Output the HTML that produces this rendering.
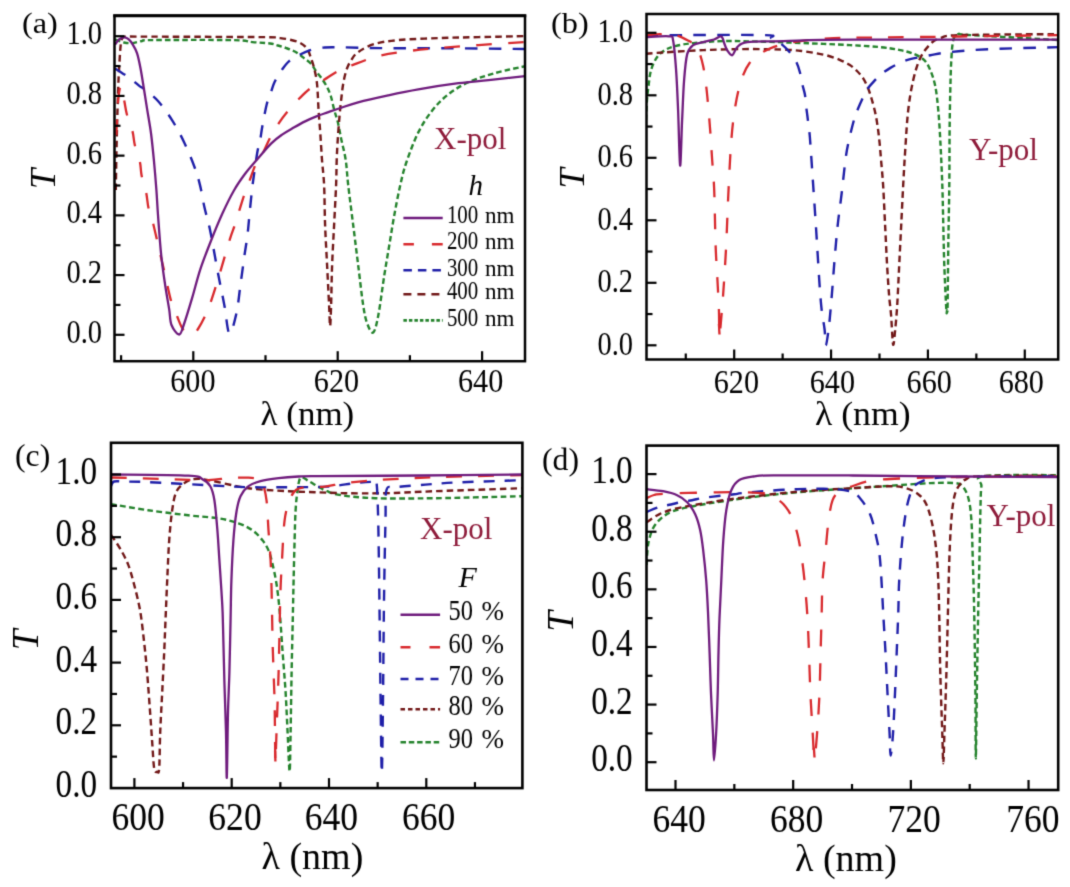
<!DOCTYPE html>
<html><head><meta charset="utf-8"><title>Figure</title>
<style>html,body{margin:0;padding:0;background:#fff;width:1070px;height:887px;overflow:hidden}
svg{display:block}text{font-family:"Liberation Serif",serif}</style></head>
<body>
<svg width="1070" height="887" viewBox="0 0 1070 887" font-family='"Liberation Serif", serif'>
<rect width="1070" height="887" fill="#fff"/>
<filter id="soft" color-interpolation-filters="sRGB" x="0" y="0" width="1070" height="887" filterUnits="userSpaceOnUse"><feConvolveMatrix order="3" kernelMatrix="1 5 1 5 25 5 1 5 1" edgeMode="duplicate"/></filter>
<g filter="url(#soft)">
<rect width="1070" height="887" fill="#fff"/>
<clipPath id="ca"><rect x="114.5" y="15.7" width="410.5" height="345.5"/></clipPath>
<path d="M115 39.5 C116.5 40 121.17 41.9 124 42.5 C126.83 43.1 129 43.35 132 43.1 C135 42.85 138.67 41.5 142 41 C145.33 40.5 136.93 40.25 152 40.1 C167.07 39.95 215.65 39.77 232.4 40.1 C249.15 40.43 246.23 41.53 252.5 42.1 C258.77 42.67 265.77 42.93 270 43.5 C274.23 44.07 275.27 44.77 277.9 45.5 C280.53 46.23 282.9 46.85 285.8 47.9 C288.7 48.95 292.42 50.22 295.3 51.8 C298.18 53.38 300.48 55.42 303.1 57.4 C305.72 59.38 308.88 61.47 311 63.7 C313.12 65.93 314.08 68.43 315.8 70.8 C317.52 73.17 319.47 75.27 321.3 77.9 C323.13 80.53 325.22 83.58 326.8 86.6 C328.38 89.62 329.53 91.98 330.8 96 C332.07 100.02 333.23 106.37 334.4 110.7 C335.57 115.03 336.67 117.3 337.8 122 C338.93 126.7 339.88 132.57 341.2 138.9 C342.52 145.23 344.53 152.32 345.7 160 C346.87 167.68 346.95 174.15 348.2 185 C349.45 195.85 351.53 211.72 353.2 225.1 C354.87 238.48 356.53 251.92 358.2 265.3 C359.87 278.68 361.7 295.7 363.2 305.4 C364.7 315.1 365.53 318.98 367.2 323.5 C368.87 328.02 371.35 333.85 373.2 332.5 C375.05 331.15 376.45 324.93 378.3 315.4 C380.15 305.87 382.47 287 384.3 275.3 C386.13 263.6 387.63 255.23 389.3 245.2 C390.97 235.17 392.47 225.13 394.3 215.1 C396.13 205.07 398.3 193.77 400.3 185 C402.3 176.23 403.3 171.27 406.3 162.5 C409.3 153.73 413.95 141.1 418.3 132.4 C422.65 123.7 427.38 116.65 432.4 110.3 C437.42 103.95 442.38 98.98 448.4 94.3 C454.42 89.62 460.8 85.72 468.5 82.2 C476.2 78.68 485.02 75.9 494.6 73.2 C504.18 70.5 520.77 67.2 526 66" fill="none" stroke="#23822B" stroke-width="2.4" stroke-linejoin="round" stroke-dasharray="5.5 3.1" clip-path="url(#ca)"/>
<path d="M115.8 190 C115.92 183.33 116.22 163.33 116.5 150 C116.78 136.67 117.17 121.67 117.5 110 C117.83 98.33 118.15 88.33 118.5 80 C118.85 71.67 119.23 65.83 119.6 60 C119.97 54.17 120.23 48.67 120.7 45 C121.17 41.33 121.52 39.4 122.4 38 C123.28 36.6 123.07 36.83 126 36.6 C128.93 36.37 127.67 36.57 140 36.6 C152.33 36.63 178.33 36.7 200 36.8 C221.67 36.9 256.75 37 270 37.2 C283.25 37.4 276.22 37.6 279.5 38 C282.78 38.4 286.28 38.8 289.7 39.6 C293.12 40.4 297.1 41.28 300 42.8 C302.9 44.32 305.27 46.15 307.1 48.7 C308.93 51.25 309.82 54.82 311 58.1 C312.18 61.38 313.27 64.72 314.2 68.4 C315.13 72.08 316.02 76.1 316.6 80.2 C317.18 84.3 317.37 87.92 317.7 93 C318.03 98.08 318.17 103.98 318.6 110.7 C319.03 117.42 319.73 125.08 320.3 133.3 C320.87 141.52 321.37 151.38 322 160 C322.63 168.62 323.58 174.15 324.1 185 C324.62 195.85 324.6 211.72 325.1 225.1 C325.6 238.48 326.43 251.92 327.1 265.3 C327.77 278.68 328.6 295.28 329.1 305.4 C329.6 315.52 329.77 326 330.1 326 C330.43 326 330.77 315.52 331.1 305.4 C331.43 295.28 331.6 278.68 332.1 265.3 C332.6 251.92 333.43 238.48 334.1 225.1 C334.77 211.72 335.67 195.85 336.1 185 C336.53 174.15 336.42 167.68 336.7 160 C336.98 152.32 337.33 146.17 337.8 138.9 C338.27 131.63 338.93 122.97 339.5 116.4 C340.07 109.83 340.55 105.15 341.2 99.5 C341.85 93.85 342.47 87.58 343.4 82.5 C344.33 77.42 345.48 72.75 346.8 69 C348.12 65.25 349.42 62.82 351.3 60 C353.18 57.18 354.28 54.75 358.1 52.1 C361.92 49.45 367.5 46.1 374.2 44.1 C380.9 42.1 387.6 41.1 398.3 40.1 C409 39.1 425.03 38.6 438.4 38.1 C451.77 37.6 463.9 37.43 478.5 37.1 C493.1 36.77 518.08 36.27 526 36.1" fill="none" stroke="#701616" stroke-width="2.4" stroke-linejoin="round" stroke-dasharray="6.6 4.1" clip-path="url(#ca)"/>
<path d="M115 68.5 C116.17 69.25 119.5 71.38 122 73 C124.5 74.62 127.02 75.97 130 78.2 C132.98 80.43 137.55 84.6 139.9 86.4 C142.25 88.2 141.05 86.52 144.1 89 C147.15 91.48 153.52 96.07 158.2 101.3 C162.88 106.53 167.87 113.55 172.2 120.4 C176.53 127.25 180.52 134.72 184.2 142.4 C187.88 150.08 191.67 159.38 194.3 166.5 C196.93 173.62 198.3 178.25 200 185.1 C201.7 191.95 202.82 200.08 204.5 207.6 C206.18 215.12 207.78 218.92 210.1 230.2 C212.42 241.48 216.02 262.77 218.4 275.3 C220.78 287.83 222.57 295.7 224.4 305.4 C226.23 315.1 227.4 332.17 229.4 333.5 C231.4 334.83 234.57 321.43 236.4 313.4 C238.23 305.37 239.05 295 240.4 285.3 C241.75 275.6 243.33 263.45 244.5 255.2 C245.67 246.95 246.55 242.78 247.4 235.8 C248.25 228.82 248.85 220.82 249.6 213.3 C250.35 205.78 251.15 197.28 251.9 190.7 C252.65 184.12 253.17 180.37 254.1 173.8 C255.03 167.23 256.52 156.73 257.5 151.3 C258.48 145.87 259.2 145.33 260 141.2 C260.8 137.07 261.17 132.7 262.3 126.5 C263.43 120.3 265.35 109.75 266.8 104 C268.25 98.25 269.68 95.7 271 92 C272.32 88.3 272.9 85.47 274.7 81.8 C276.5 78.13 279.43 73.42 281.8 70 C284.17 66.58 286 63.8 288.9 61.3 C291.8 58.8 295.77 56.83 299.2 55 C302.63 53.17 305.82 51.48 309.5 50.3 C313.18 49.12 317.37 48.42 321.3 47.9 C325.23 47.38 323.32 47.17 333.1 47.2 C342.88 47.23 360.52 47.92 380 48.1 C399.48 48.28 425.67 48.15 450 48.3 C474.33 48.45 513.33 48.88 526 49" fill="none" stroke="#1E1EA8" stroke-width="2.4" stroke-linejoin="round" stroke-dasharray="12.5 11.3" clip-path="url(#ca)"/>
<path d="M116.3 135 C116.5 130.83 117.05 117 117.5 110 C117.95 103 118.47 96.93 119 93 C119.53 89.07 120.12 86.57 120.7 86.4 C121.28 86.23 121.87 89.4 122.5 92 C123.13 94.6 123.77 98.25 124.5 102 C125.23 105.75 125.57 109.6 126.9 114.5 C128.23 119.4 131.18 126.32 132.5 131.4 C133.82 136.48 133.57 139.92 134.8 145 C136.03 150.08 138.77 156.83 139.9 161.9 C141.03 166.97 140.57 170.33 141.6 175.4 C142.63 180.47 144.98 187.03 146.1 192.3 C147.22 197.57 147.47 203.2 148.3 207 C149.13 210.8 149.45 208.73 151.1 215.1 C152.75 221.47 155.85 235.17 158.2 245.2 C160.55 255.23 163.03 265.93 165.2 275.3 C167.37 284.67 169.2 294.53 171.2 301.4 C173.2 308.27 175.2 311.82 177.2 316.5 C179.2 321.18 180.68 326.5 183.2 329.5 C185.72 332.5 189.78 334.67 192.3 334.5 C194.82 334.33 195.97 332.02 198.3 328.5 C200.63 324.98 203.97 318.58 206.3 313.4 C208.63 308.22 209.95 304.42 212.3 297.4 C214.65 290.38 217.47 281 220.4 271.3 C223.33 261.6 227.47 246.98 229.9 239.2 C232.33 231.42 233.4 229.48 235 224.6 C236.6 219.72 237.92 214.98 239.5 209.9 C241.08 204.82 242.82 198.98 244.5 194.1 C246.18 189.22 247.62 185.87 249.6 180.6 C251.58 175.33 254.05 167.38 256.4 162.5 C258.75 157.62 261.42 155.42 263.7 151.3 C265.98 147.18 267.52 142.58 270.1 137.8 C272.68 133.02 276.18 127.12 279.2 122.6 C282.22 118.08 284.82 114.75 288.2 110.7 C291.58 106.65 295.78 102.03 299.5 98.3 C303.22 94.57 306.33 91.43 310.5 88.3 C314.67 85.17 320.07 82.28 324.5 79.5 C328.93 76.72 332.45 74 337.1 71.6 C341.75 69.2 345.55 67.68 352.4 65.1 C359.25 62.52 368.88 58.43 378.2 56.1 C387.52 53.77 398.27 52.43 408.3 51.1 C418.33 49.77 426.7 49.1 438.4 48.1 C450.1 47.1 463.9 46.12 478.5 45.1 C493.1 44.08 518.08 42.52 526 42" fill="none" stroke="#D8282C" stroke-width="2.3" stroke-linejoin="round" stroke-dasharray="15.5 16.3" clip-path="url(#ca)"/>
<path d="M115 44.7 C115.5 44 117 41.57 118 40.5 C119 39.43 119.88 38.82 121 38.3 C122.12 37.78 123.45 37.25 124.7 37.4 C125.95 37.55 127.2 38.07 128.5 39.2 C129.8 40.33 131.08 41.87 132.5 44.2 C133.92 46.53 135.68 49.27 137 53.2 C138.32 57.13 139.27 61.98 140.4 67.8 C141.53 73.62 142.67 81.13 143.8 88.1 C144.93 95.07 145.98 101.95 147.2 109.6 C148.42 117.25 149.95 125.18 151.1 134 C152.25 142.82 153.22 153.17 154.1 162.5 C154.98 171.83 155.75 181.25 156.4 190 C157.05 198.75 157.2 204.13 158 215 C158.8 225.87 160 243.48 161.2 255.2 C162.4 266.92 163.87 276.27 165.2 285.3 C166.53 294.33 168.15 302.78 169.2 309.4 C170.25 316.02 169.83 320.82 171.5 325 C173.17 329.18 177.08 334.75 179.2 334.5 C181.32 334.25 182.02 329.68 184.2 323.5 C186.38 317.32 189.62 306.43 192.3 297.4 C194.98 288.37 197.13 278.87 200.3 269.3 C203.47 259.73 207.6 249.33 211.3 240 C215 230.67 218.75 221.52 222.5 213.3 C226.25 205.08 230.03 197.28 233.8 190.7 C237.57 184.12 241.33 178.87 245.1 173.8 C248.87 168.73 252.03 165.37 256.4 160.3 C260.77 155.23 266.95 147.72 271.3 143.4 C275.65 139.08 278.75 137.03 282.5 134.4 C286.25 131.77 290.03 129.77 293.8 127.6 C297.57 125.43 301.33 123.27 305.1 121.4 C308.87 119.53 312.65 117.9 316.4 116.4 C320.15 114.9 323.85 113.72 327.6 112.4 C331.35 111.08 333.82 110.18 338.9 108.5 C343.98 106.82 349.88 104.5 358.1 102.3 C366.32 100.1 378.17 97.47 388.2 95.3 C398.23 93.13 406.58 91.32 418.3 89.3 C430.02 87.28 446.78 84.72 458.5 83.2 C470.22 81.68 477.35 81.4 488.6 80.2 C499.85 79 519.77 76.7 526 76" fill="none" stroke="#6E1A7C" stroke-width="2.3" stroke-linejoin="round" clip-path="url(#ca)"/>
<rect x="114.5" y="15.7" width="410.5" height="345.5" fill="none" stroke="#000" stroke-width="2.5"/>
<line x1="113.25" y1="15.7" x2="526.25" y2="15.7" stroke="#000" stroke-width="3" stroke-linecap="butt"/>
<line x1="193.3" y1="361.2" x2="193.3" y2="351.2" stroke="#000" stroke-width="2.2" stroke-linecap="butt"/>
<line x1="337.7" y1="361.2" x2="337.7" y2="351.2" stroke="#000" stroke-width="2.2" stroke-linecap="butt"/>
<line x1="482.1" y1="361.2" x2="482.1" y2="351.2" stroke="#000" stroke-width="2.2" stroke-linecap="butt"/>
<line x1="121.1" y1="361.2" x2="121.1" y2="355.2" stroke="#000" stroke-width="2.2" stroke-linecap="butt"/>
<line x1="265.5" y1="361.2" x2="265.5" y2="355.2" stroke="#000" stroke-width="2.2" stroke-linecap="butt"/>
<line x1="409.9" y1="361.2" x2="409.9" y2="355.2" stroke="#000" stroke-width="2.2" stroke-linecap="butt"/>
<line x1="114.5" y1="334.8" x2="124.5" y2="334.8" stroke="#000" stroke-width="2.2" stroke-linecap="butt"/>
<line x1="114.5" y1="304.94" x2="120.5" y2="304.94" stroke="#000" stroke-width="2.2" stroke-linecap="butt"/>
<line x1="114.5" y1="275.08" x2="124.5" y2="275.08" stroke="#000" stroke-width="2.2" stroke-linecap="butt"/>
<line x1="114.5" y1="245.22" x2="120.5" y2="245.22" stroke="#000" stroke-width="2.2" stroke-linecap="butt"/>
<line x1="114.5" y1="215.36" x2="124.5" y2="215.36" stroke="#000" stroke-width="2.2" stroke-linecap="butt"/>
<line x1="114.5" y1="185.5" x2="120.5" y2="185.5" stroke="#000" stroke-width="2.2" stroke-linecap="butt"/>
<line x1="114.5" y1="155.64" x2="124.5" y2="155.64" stroke="#000" stroke-width="2.2" stroke-linecap="butt"/>
<line x1="114.5" y1="125.78" x2="120.5" y2="125.78" stroke="#000" stroke-width="2.2" stroke-linecap="butt"/>
<line x1="114.5" y1="95.92" x2="124.5" y2="95.92" stroke="#000" stroke-width="2.2" stroke-linecap="butt"/>
<line x1="114.5" y1="66.06" x2="120.5" y2="66.06" stroke="#000" stroke-width="2.2" stroke-linecap="butt"/>
<line x1="114.5" y1="36.2" x2="124.5" y2="36.2" stroke="#000" stroke-width="2.2" stroke-linecap="butt"/>
<text transform="translate(102 342.9) scale(0.83 1)" text-anchor="end" font-size="34.3" fill="#000" style="" >0.0</text>
<text transform="translate(102 283.18) scale(0.83 1)" text-anchor="end" font-size="34.3" fill="#000" style="" >0.2</text>
<text transform="translate(102 223.46) scale(0.83 1)" text-anchor="end" font-size="34.3" fill="#000" style="" >0.4</text>
<text transform="translate(102 163.74) scale(0.83 1)" text-anchor="end" font-size="34.3" fill="#000" style="" >0.6</text>
<text transform="translate(102 104.02) scale(0.83 1)" text-anchor="end" font-size="34.3" fill="#000" style="" >0.8</text>
<text transform="translate(102 44.3) scale(0.83 1)" text-anchor="end" font-size="34.3" fill="#000" style="" >1.0</text>
<text transform="translate(192.9 391.9) scale(0.88 1)" text-anchor="middle" font-size="34.3" fill="#000" style="" >600</text>
<text transform="translate(336.5 391.9) scale(0.88 1)" text-anchor="middle" font-size="34.3" fill="#000" style="" >620</text>
<text transform="translate(480.6 391.9) scale(0.88 1)" text-anchor="middle" font-size="34.3" fill="#000" style="" >640</text>
<text transform="translate(260.5 424.5) scale(1.03 1)" text-anchor="start" font-size="34" fill="#000" style="" >λ (nm)</text>
<text transform="translate(55 179) rotate(-90)" text-anchor="middle" font-size="36.5" style="font-style:italic">T</text>
<text transform="translate(22 33) scale(1.06 1)" text-anchor="start" font-size="30.5" fill="#000" style="" >(a)</text>
<text transform="translate(434 149.3) scale(1 1)" text-anchor="start" font-size="31" fill="#8E1B3A" style="" >X-pol</text>
<text transform="translate(468.5 195.3) scale(1 1)" text-anchor="start" font-size="29" fill="#000" style="font-style:italic;" >h</text>
<line x1="403.4" y1="218" x2="442.7" y2="218" stroke="#6E1A7C" stroke-width="2.4" stroke-linecap="butt"/>
<text transform="translate(446.9 223.2) scale(0.85 1)" text-anchor="start" font-size="24.6" fill="#000" style="" >100</text>
<text transform="translate(485.1 223.2) scale(0.98 1)" text-anchor="start" font-size="23.5" fill="#000" style="" >nm</text>
<line x1="403.4" y1="244.2" x2="442.7" y2="244.2" stroke="#D8282C" stroke-width="2.4" stroke-linecap="butt" stroke-dasharray="10.5 18 11"/>
<text transform="translate(446.9 249.4) scale(0.85 1)" text-anchor="start" font-size="24.6" fill="#000" style="" >200</text>
<text transform="translate(485.1 249.4) scale(0.98 1)" text-anchor="start" font-size="23.5" fill="#000" style="" >nm</text>
<line x1="403.4" y1="270.3" x2="442.7" y2="270.3" stroke="#1E1EA8" stroke-width="2.6" stroke-linecap="butt" stroke-dasharray="8.5 6"/>
<text transform="translate(446.9 275.5) scale(0.85 1)" text-anchor="start" font-size="24.6" fill="#000" style="" >300</text>
<text transform="translate(485.1 275.5) scale(0.98 1)" text-anchor="start" font-size="23.5" fill="#000" style="" >nm</text>
<line x1="403.4" y1="294.2" x2="442.7" y2="294.2" stroke="#701616" stroke-width="2.6" stroke-linecap="butt" stroke-dasharray="8 6"/>
<text transform="translate(446.9 299.4) scale(0.85 1)" text-anchor="start" font-size="24.6" fill="#000" style="" >400</text>
<text transform="translate(485.1 299.4) scale(0.98 1)" text-anchor="start" font-size="23.5" fill="#000" style="" >nm</text>
<line x1="403.4" y1="320.4" x2="442.7" y2="320.4" stroke="#23822B" stroke-width="2.6" stroke-linecap="butt" stroke-dasharray="3.5 2"/>
<text transform="translate(446.9 325.6) scale(0.85 1)" text-anchor="start" font-size="24.6" fill="#000" style="" >500</text>
<text transform="translate(485.1 325.6) scale(0.98 1)" text-anchor="start" font-size="23.5" fill="#000" style="" >nm</text>
<clipPath id="cb"><rect x="646.5" y="14" width="411.7" height="345.5"/></clipPath>
<path d="M646 120 C646.17 116.67 646.58 105.62 647 100 C647.42 94.38 647.83 91.27 648.5 86.3 C649.17 81.33 649.58 75.05 651 70.2 C652.42 65.35 654.65 60.55 657 57.2 C659.35 53.85 662.08 51.95 665.1 50.1 C668.12 48.25 670.42 47.27 675.1 46.1 C679.78 44.93 685.17 43.93 693.2 43.1 C701.23 42.27 711.6 41.33 723.3 41.1 C735 40.87 750.03 41.37 763.4 41.7 C776.77 42.03 789.07 42.53 803.5 43.1 C817.93 43.67 837.23 44.43 850 45.1 C862.77 45.77 871.73 46.27 880.1 47.1 C888.47 47.93 894.52 48.93 900.2 50.1 C905.88 51.27 910.18 52.42 914.2 54.1 C918.22 55.78 921.62 57.52 924.3 60.2 C926.98 62.88 928.47 65.85 930.3 70.2 C932.13 74.55 933.97 79.62 935.3 86.3 C936.63 92.98 937.47 101.28 938.3 110.3 C939.13 119.32 939.63 127.95 940.3 140.4 C940.97 152.85 941.8 170.88 942.3 185 C942.8 199.12 942.97 211.72 943.3 225.1 C943.63 238.48 943.8 251.25 944.3 265.3 C944.8 279.35 945.85 301.87 946.3 309.4 C946.75 316.93 946.78 311.17 947 310.5 C947.22 309.83 947.38 316.28 947.6 305.4 C947.82 294.52 948.02 265.27 948.3 245.2 C948.58 225.13 949.08 204.13 949.3 185 C949.52 165.87 949.43 146.18 949.6 130.4 C949.77 114.62 950.02 102 950.3 90.3 C950.58 78.6 950.8 68.57 951.3 60.2 C951.8 51.83 952.12 44.45 953.3 40.1 C954.48 35.75 955.55 34.93 958.4 34.1 C961.25 33.27 953.47 34.1 970.4 35.1 C987.33 36.1 1045.07 39.27 1060 40.1" fill="none" stroke="#23822B" stroke-width="2.4" stroke-linejoin="round" stroke-dasharray="5.5 3.1" clip-path="url(#cb)"/>
<path d="M646 53.7 C648.85 53.5 653.57 53.1 663.1 52.5 C672.63 51.9 689.83 50.67 703.2 50.1 C716.57 49.53 732.17 49.23 743.3 49.1 C754.43 48.97 762.22 49.17 770 49.3 C777.78 49.43 784.6 49.6 790 49.9 C795.4 50.2 798.27 50.58 802.4 51.1 C806.53 51.62 810.67 52.27 814.8 53 C818.93 53.73 823.07 54.37 827.2 55.5 C831.33 56.63 835.88 58.25 839.6 59.8 C843.32 61.35 846.6 62.93 849.5 64.8 C852.4 66.67 854.72 68.73 857 71 C859.28 73.27 861.35 75.52 863.2 78.4 C865.05 81.28 866.67 84.78 868.1 88.3 C869.53 91.82 870.55 95.15 871.8 99.5 C873.05 103.85 874.57 109.45 875.6 114.4 C876.63 119.35 877.33 124.43 878 129.2 C878.67 133.97 879.08 137.78 879.6 143 C880.12 148.22 880.52 153.5 881.1 160.5 C881.68 167.5 882.43 174.23 883.1 185 C883.77 195.77 884.43 211.72 885.1 225.1 C885.77 238.48 886.43 253.58 887.1 265.3 C887.77 277.02 888.43 287.05 889.1 295.4 C889.77 303.75 890.43 307.22 891.1 315.4 C891.77 323.58 892.42 342.15 893.1 344.5 C893.78 346.85 894.52 336.02 895.2 329.5 C895.88 322.98 896.53 316.1 897.2 305.4 C897.87 294.7 898.53 278.68 899.2 265.3 C899.87 251.92 900.53 238.48 901.2 225.1 C901.87 211.72 902.53 197.43 903.2 185 C903.87 172.57 904.37 162.95 905.2 150.5 C906.03 138.05 906.87 122.02 908.2 110.3 C909.53 98.58 911.2 88.88 913.2 80.2 C915.2 71.52 917.35 64.22 920.2 58.2 C923.05 52.18 926.95 47.45 930.3 44.1 C933.65 40.75 935.28 39.6 940.3 38.1 C945.32 36.6 940.45 35.77 960.4 35.1 C980.35 34.43 1043.4 34.27 1060 34.1" fill="none" stroke="#701616" stroke-width="2.4" stroke-linejoin="round" stroke-dasharray="6.6 4.1" clip-path="url(#cb)"/>
<path d="M646 36.1 C648.33 35.97 640.43 35.47 660 35.3 C679.57 35.13 744.83 34.63 763.4 35.1 C781.97 35.57 768.38 36.6 771.4 38.1 C774.42 39.6 778.48 41.77 781.5 44.1 C784.52 46.43 787.05 49.17 789.5 52.1 C791.95 55.03 794.47 58.35 796.2 61.7 C797.93 65.05 798.87 68.38 799.9 72.2 C800.93 76.02 801.57 80.88 802.4 84.6 C803.23 88.32 804.27 90.78 804.9 94.5 C805.53 98.22 805.78 103.32 806.2 106.9 C806.62 110.48 807 112.78 807.4 116 C807.8 119.22 808.18 122.62 808.6 126.2 C809.02 129.78 809.23 129.1 809.9 137.5 C810.57 145.9 811.65 162.67 812.6 176.6 C813.55 190.53 814.77 208.33 815.6 221.1 C816.43 233.87 816.93 242.5 817.6 253.2 C818.27 263.9 818.93 275.93 819.6 285.3 C820.27 294.67 820.77 302.03 821.6 309.4 C822.43 316.77 823.9 323.48 824.6 329.5 C825.3 335.52 825.13 345.5 825.8 345.5 C826.47 345.5 827.8 335.52 828.6 329.5 C829.4 323.48 829.93 316.77 830.6 309.4 C831.27 302.03 831.93 293.65 832.6 285.3 C833.27 276.95 833.75 269.33 834.6 259.3 C835.45 249.27 836.52 236.15 837.7 225.1 C838.88 214.05 840.37 204.18 841.7 193 C843.03 181.82 844.5 166.77 845.7 158 C846.9 149.23 847.43 147.05 848.9 140.4 C850.37 133.75 852.95 123.47 854.5 118.1 C856.05 112.73 856.75 111.72 858.2 108.2 C859.65 104.68 861.75 100.1 863.2 97 C864.65 93.9 865.05 92.28 866.9 89.6 C868.75 86.92 872.03 83.38 874.3 80.9 C876.57 78.42 877.82 76.87 880.5 74.7 C883.18 72.53 887.15 69.87 890.4 67.9 C893.65 65.93 896.7 64.35 900 62.9 C903.3 61.45 905.15 60.48 910.2 59.2 C915.25 57.92 923.62 56.38 930.3 55.2 C936.98 54.02 940.27 53.12 950.3 52.1 C960.33 51.08 972.22 49.93 990.5 49.1 C1008.78 48.27 1048.42 47.43 1060 47.1" fill="none" stroke="#1E1EA8" stroke-width="2.4" stroke-linejoin="round" stroke-dasharray="12.5 11.3" clip-path="url(#cb)"/>
<path d="M646 35.3 C648.33 35.12 656.48 34.43 660 34.2 C663.52 33.97 664.25 33.68 667.1 33.9 C669.95 34.12 673.62 34.4 677.1 35.5 C680.58 36.6 684.98 38.9 688 40.5 C691.02 42.1 693.33 43.17 695.2 45.1 C697.07 47.03 697.87 48.58 699.2 52.1 C700.53 55.62 702.03 60.5 703.2 66.2 C704.37 71.9 705.37 79.62 706.2 86.3 C707.03 92.98 707.53 98.95 708.2 106.3 C708.87 113.65 709.53 121.37 710.2 130.4 C710.87 139.43 711.53 150.57 712.2 160.5 C712.87 170.43 713.63 175.88 714.2 190 C714.77 204.12 715.08 230.65 715.6 245.2 C716.12 259.75 716.75 266.6 717.3 277.3 C717.85 288 718.53 299.87 718.9 309.4 C719.27 318.93 718.93 335.17 719.5 334.5 C720.07 333.83 721.5 314.93 722.3 305.4 C723.1 295.87 723.63 287.67 724.3 277.3 C724.97 266.93 725.63 256.92 726.3 243.2 C726.97 229.48 727.47 212.13 728.3 195 C729.13 177.87 730.13 155.18 731.3 140.4 C732.47 125.62 733.63 116.33 735.3 106.3 C736.97 96.27 738.95 87.38 741.3 80.2 C743.65 73.02 746.05 67.72 749.4 63.2 C752.75 58.68 757.4 55.78 761.4 53.1 C765.4 50.42 768.05 48.93 773.4 47.1 C778.75 45.27 783.47 43.6 793.5 42.1 C803.53 40.6 819.18 38.87 833.6 38.1 C848.02 37.33 858.93 37.77 880 37.5 C901.07 37.23 930 36.9 960 36.5 C990 36.1 1043.33 35.33 1060 35.1" fill="none" stroke="#D8282C" stroke-width="2.3" stroke-linejoin="round" stroke-dasharray="15.5 16.3" clip-path="url(#cb)"/>
<path d="M646 37.1 C649.85 36.97 664.58 35.73 669.1 36.3 C673.62 36.87 671.93 34.85 673.1 40.5 C674.27 46.15 675.27 58.57 676.1 70.2 C676.93 81.83 677.43 94.42 678.1 110.3 C678.77 126.18 679.43 163.82 680.1 165.5 C680.77 167.18 681.43 134.62 682.1 120.4 C682.77 106.18 683.25 91.25 684.1 80.2 C684.95 69.15 685.68 59.95 687.2 54.1 C688.72 48.25 690.53 47.1 693.2 45.1 C695.87 43.1 699.73 43.03 703.2 42.1 C706.67 41.17 710.98 40.43 714 39.5 C717.02 38.57 719.55 35.75 721.3 36.5 C723.05 37.25 723.5 41.67 724.5 44 C725.5 46.33 726 48.63 727.3 50.5 C728.6 52.37 730.63 55.77 732.3 55.2 C733.97 54.63 734.78 49.28 737.3 47.1 C739.82 44.92 739.7 43.1 747.4 42.1 C755.1 41.1 765.92 41.5 783.5 41.1 C801.08 40.7 806.82 39.93 852.9 39.7 C898.98 39.47 1025.48 39.7 1060 39.7" fill="none" stroke="#6E1A7C" stroke-width="2.3" stroke-linejoin="round" clip-path="url(#cb)"/>
<line x1="718.9" y1="324" x2="719.5" y2="334.5" stroke="#D8282C" stroke-width="2.3" stroke-linecap="butt"/>
<rect x="646.5" y="14" width="411.7" height="345.5" fill="none" stroke="#000" stroke-width="2.5"/>
<line x1="734.2" y1="359.5" x2="734.2" y2="349.5" stroke="#000" stroke-width="2.2" stroke-linecap="butt"/>
<line x1="831.06" y1="359.5" x2="831.06" y2="349.5" stroke="#000" stroke-width="2.2" stroke-linecap="butt"/>
<line x1="927.92" y1="359.5" x2="927.92" y2="349.5" stroke="#000" stroke-width="2.2" stroke-linecap="butt"/>
<line x1="1024.78" y1="359.5" x2="1024.78" y2="349.5" stroke="#000" stroke-width="2.2" stroke-linecap="butt"/>
<line x1="685.77" y1="359.5" x2="685.77" y2="353.5" stroke="#000" stroke-width="2.2" stroke-linecap="butt"/>
<line x1="782.63" y1="359.5" x2="782.63" y2="353.5" stroke="#000" stroke-width="2.2" stroke-linecap="butt"/>
<line x1="879.49" y1="359.5" x2="879.49" y2="353.5" stroke="#000" stroke-width="2.2" stroke-linecap="butt"/>
<line x1="976.35" y1="359.5" x2="976.35" y2="353.5" stroke="#000" stroke-width="2.2" stroke-linecap="butt"/>
<line x1="646.5" y1="345.3" x2="656.5" y2="345.3" stroke="#000" stroke-width="2.2" stroke-linecap="butt"/>
<line x1="646.5" y1="314.05" x2="652.5" y2="314.05" stroke="#000" stroke-width="2.2" stroke-linecap="butt"/>
<line x1="646.5" y1="282.8" x2="656.5" y2="282.8" stroke="#000" stroke-width="2.2" stroke-linecap="butt"/>
<line x1="646.5" y1="251.55" x2="652.5" y2="251.55" stroke="#000" stroke-width="2.2" stroke-linecap="butt"/>
<line x1="646.5" y1="220.3" x2="656.5" y2="220.3" stroke="#000" stroke-width="2.2" stroke-linecap="butt"/>
<line x1="646.5" y1="189.05" x2="652.5" y2="189.05" stroke="#000" stroke-width="2.2" stroke-linecap="butt"/>
<line x1="646.5" y1="157.8" x2="656.5" y2="157.8" stroke="#000" stroke-width="2.2" stroke-linecap="butt"/>
<line x1="646.5" y1="126.55" x2="652.5" y2="126.55" stroke="#000" stroke-width="2.2" stroke-linecap="butt"/>
<line x1="646.5" y1="95.3" x2="656.5" y2="95.3" stroke="#000" stroke-width="2.2" stroke-linecap="butt"/>
<line x1="646.5" y1="64.05" x2="652.5" y2="64.05" stroke="#000" stroke-width="2.2" stroke-linecap="butt"/>
<line x1="646.5" y1="32.8" x2="656.5" y2="32.8" stroke="#000" stroke-width="2.2" stroke-linecap="butt"/>
<text transform="translate(633 354.5) scale(0.83 1)" text-anchor="end" font-size="34.3" fill="#000" style="" >0.0</text>
<text transform="translate(633 292) scale(0.83 1)" text-anchor="end" font-size="34.3" fill="#000" style="" >0.2</text>
<text transform="translate(633 229.5) scale(0.83 1)" text-anchor="end" font-size="34.3" fill="#000" style="" >0.4</text>
<text transform="translate(633 167) scale(0.83 1)" text-anchor="end" font-size="34.3" fill="#000" style="" >0.6</text>
<text transform="translate(633 104.5) scale(0.83 1)" text-anchor="end" font-size="34.3" fill="#000" style="" >0.8</text>
<text transform="translate(633 42) scale(0.83 1)" text-anchor="end" font-size="34.3" fill="#000" style="" >1.0</text>
<text transform="translate(736.4 392.6) scale(0.88 1)" text-anchor="middle" font-size="34.3" fill="#000" style="" >620</text>
<text transform="translate(832.4 392.6) scale(0.88 1)" text-anchor="middle" font-size="34.3" fill="#000" style="" >640</text>
<text transform="translate(929.2 392.6) scale(0.88 1)" text-anchor="middle" font-size="34.3" fill="#000" style="" >660</text>
<text transform="translate(1021.3 392.6) scale(0.88 1)" text-anchor="middle" font-size="34.3" fill="#000" style="" >680</text>
<text transform="translate(815 424.5) scale(1.05 1)" text-anchor="start" font-size="34" fill="#000" style="" >λ (nm)</text>
<text transform="translate(584 178.5) rotate(-90)" text-anchor="middle" font-size="36" style="font-style:italic">T</text>
<text transform="translate(551 33) scale(1.06 1)" text-anchor="start" font-size="30.5" fill="#000" style="" >(b)</text>
<text transform="translate(969 159.5) scale(1 1)" text-anchor="start" font-size="31" fill="#8E1B3A" style="" >Y-pol</text>
<clipPath id="cc"><rect x="111" y="442.8" width="411.4" height="345.3"/></clipPath>
<path d="M111 504.2 C117.18 505.2 135.22 508.35 148.1 510.2 C160.98 512.05 176.58 513.95 188.3 515.3 C200.02 516.65 210.05 516.97 218.4 518.3 C226.75 519.63 232.72 521.3 238.4 523.3 C244.08 525.3 248.48 527.47 252.5 530.3 C256.52 533.13 259.83 536.95 262.5 540.3 C265.17 543.65 266.82 546.38 268.5 550.4 C270.18 554.42 271.25 558.72 272.6 564.4 C273.95 570.08 275.43 576.8 276.6 584.5 C277.77 592.2 278.6 599.33 279.6 610.6 C280.6 621.87 281.6 638.48 282.6 652.1 C283.6 665.72 284.77 678.92 285.6 692.3 C286.43 705.68 286.93 719.2 287.6 732.4 C288.27 745.6 289.1 771.5 289.6 771.5 C290.1 771.5 290.27 748.95 290.6 732.4 C290.93 715.85 291.23 691.27 291.6 672.2 C291.97 653.13 292.47 633.28 292.8 618 C293.13 602.72 293.3 593.45 293.6 580.5 C293.9 567.55 294.27 552.02 294.6 540.3 C294.93 528.58 295.1 518.55 295.6 510.2 C296.1 501.85 296.75 495.65 297.6 490.2 C298.45 484.75 298.85 479.02 300.7 477.5 C302.55 475.98 305.83 479.6 308.7 481.1 C311.57 482.6 314.85 484.82 317.9 486.5 C320.95 488.18 323.13 489.75 327 491.2 C330.87 492.65 333.07 494.03 341.1 495.2 C349.13 496.37 359.48 497.7 375.2 498.2 C390.92 498.7 410.77 498.53 435.4 498.2 C460.03 497.87 508.4 496.53 523 496.2" fill="none" stroke="#23822B" stroke-width="2.4" stroke-linejoin="round" stroke-dasharray="5.8 3.4" clip-path="url(#cc)"/>
<path d="M111 535 C111.17 535.22 110.5 534.07 112 536.3 C113.5 538.53 117.32 543.72 120 548.4 C122.68 553.08 125.75 558.38 128.1 564.4 C130.45 570.42 132.1 576.8 134.1 584.5 C136.1 592.2 138.43 601 140.1 610.6 C141.77 620.2 142.93 631.83 144.1 642.1 C145.27 652.37 146.1 660.5 147.1 672.2 C148.1 683.9 149.25 700.6 150.1 712.3 C150.95 724 151.52 733.03 152.2 742.4 C152.88 751.77 153.37 763.6 154.2 768.5 C155.03 773.4 156.37 771.8 157.2 771.8 C158.03 771.8 158.7 775.07 159.2 768.5 C159.7 761.93 159.7 745.1 160.2 732.4 C160.7 719.7 161.53 705.68 162.2 692.3 C162.87 678.92 163.63 664.48 164.2 652.1 C164.77 639.72 165.1 629.93 165.6 618 C166.1 606.07 166.6 593.45 167.2 580.5 C167.8 567.55 168.37 552.02 169.2 540.3 C170.03 528.58 171.03 518.22 172.2 510.2 C173.37 502.18 174.18 496.72 176.2 492.2 C178.22 487.68 181.28 485.28 184.3 483.1 C187.32 480.92 190.3 479.6 194.3 479.1 C198.3 478.6 199.27 478.58 208.3 480.1 C217.33 481.62 235.12 486.35 248.5 488.2 C261.88 490.05 277.52 490.53 288.6 491.2 C299.68 491.87 305.58 491.87 315 492.2 C324.42 492.53 333.4 493.03 345.1 493.2 C356.8 493.37 370.15 493.53 385.2 493.2 C400.25 492.87 412.43 492.03 435.4 491.2 C458.37 490.37 508.4 488.7 523 488.2" fill="none" stroke="#701616" stroke-width="2.4" stroke-linejoin="round" stroke-dasharray="6.6 4" clip-path="url(#cc)"/>
<path d="M111 486.2 C111.5 485.42 111.67 482.27 114 481.5 C116.33 480.73 119.32 481.5 125 481.6 C130.68 481.7 134.22 481.5 148.1 482.1 C161.98 482.7 191.57 484.35 208.3 485.2 C225.03 486.05 235.12 486.87 248.5 487.2 C261.88 487.53 275.52 487.3 288.6 487.2 C301.68 487.1 315.92 487.28 327 486.6 C338.08 485.92 347.27 483.9 355.1 483.1 C362.93 482.3 370.42 481.82 374 481.8 C377.58 481.78 375.9 476.63 376.6 483 C377.3 489.37 377.73 500.5 378.2 520 C378.67 539.5 379 570 379.4 600 C379.8 630 380.2 671.13 380.6 700 C381 728.87 381.4 773.2 381.8 773.2 C382.2 773.2 382.63 728.87 383 700 C383.37 671.13 383.58 630 384 600 C384.42 570 385.08 538.33 385.5 520 C385.92 501.67 384.87 495.47 386.5 490 C388.13 484.53 388.82 488.1 395.3 487.2 C401.78 486.3 415.37 485.38 425.4 484.6 C435.43 483.82 443.8 483.08 455.5 482.5 C467.2 481.92 484.35 481.5 495.6 481.1 C506.85 480.7 518.43 480.27 523 480.1" fill="none" stroke="#1E1EA8" stroke-width="2.4" stroke-linejoin="round" stroke-dasharray="11 10" clip-path="url(#cc)"/>
<path d="M111 477.5 C120.53 477.77 151.98 478.67 168.2 479.1 C184.42 479.53 198.27 480.27 208.3 480.1 C218.33 479.93 221.7 478.5 228.4 478.1 C235.1 477.7 243.57 477.55 248.5 477.7 C253.43 477.85 255.67 478.12 258 479 C260.33 479.88 261.08 479.47 262.5 483 C263.92 486.53 265.5 492.32 266.5 500.2 C267.5 508.08 267.82 520.27 268.5 530.3 C269.18 540.33 270.08 550.37 270.6 560.4 C271.12 570.43 271.27 576.88 271.6 590.5 C271.93 604.12 272.27 628.48 272.6 642.1 C272.93 655.72 273.27 662.17 273.6 672.2 C273.93 682.23 274.37 692.27 274.6 702.3 C274.83 712.33 274.87 722.53 275 732.4 C275.13 742.27 275.15 761.5 275.4 761.5 C275.65 761.5 276.13 742.27 276.5 732.4 C276.87 722.53 277.25 712.33 277.6 702.3 C277.95 692.27 278.27 684.58 278.6 672.2 C278.93 659.82 279.28 641.7 279.6 628 C279.92 614.3 280.1 601.33 280.5 590 C280.9 578.67 281.32 571.62 282 560 C282.68 548.38 283.33 530.27 284.6 520.3 C285.87 510.33 287.7 505.25 289.6 500.2 C291.5 495.15 293.43 492.12 296 490 C298.57 487.88 300.17 488.07 305 487.5 C309.83 486.93 318.32 487.33 325 486.6 C331.68 485.87 336.73 484.18 345.1 483.1 C353.47 482.02 365.17 480.87 375.2 480.1 C385.23 479.33 395.27 479 405.3 478.5 C415.33 478 423.7 477.5 435.4 477.1 C447.1 476.7 460.9 476.43 475.5 476.1 C490.1 475.77 515.08 475.27 523 475.1" fill="none" stroke="#D8282C" stroke-width="2.3" stroke-linejoin="round" stroke-dasharray="15.8 16" clip-path="url(#cc)"/>
<path d="M111 474.5 C123.88 474.7 173.08 474.93 188.3 475.7 C203.52 476.47 198.63 477.35 202.3 479.1 C205.97 480.85 208.28 482.68 210.3 486.2 C212.32 489.72 213.22 492.85 214.4 500.2 C215.58 507.55 216.57 520.27 217.4 530.3 C218.23 540.33 218.73 550.37 219.4 560.4 C220.07 570.43 220.87 581.9 221.4 590.5 C221.93 599.1 222.27 603.4 222.6 612 C222.93 620.6 223.1 630.4 223.4 642.1 C223.7 653.8 223.97 667.15 224.4 682.2 C224.83 697.25 225.6 716.5 226 732.4 C226.4 748.3 226.47 780.95 226.8 777.6 C227.13 774.25 227.57 729.87 228 712.3 C228.43 694.73 228.97 687.92 229.4 672.2 C229.83 656.48 230.27 633.28 230.6 618 C230.93 602.72 230.93 593.45 231.4 580.5 C231.87 567.55 232.57 551.68 233.4 540.3 C234.23 528.92 235.22 519.55 236.4 512.2 C237.58 504.85 238.48 500.53 240.5 496.2 C242.52 491.87 245.17 488.72 248.5 486.2 C251.83 483.68 255.48 482.45 260.5 481.1 C265.52 479.75 272.25 478.87 278.6 478.1 C284.95 477.33 292.05 476.83 298.6 476.5 C305.15 476.17 297.67 476.27 317.9 476.1 C338.13 475.93 385.82 475.77 420 475.5 C454.18 475.23 505.83 474.67 523 474.5" fill="none" stroke="#6E1A7C" stroke-width="2.3" stroke-linejoin="round" clip-path="url(#cc)"/>
<line x1="275.1" y1="751" x2="275.4" y2="761.5" stroke="#D8282C" stroke-width="2.3" stroke-linecap="butt"/>
<rect x="111" y="442.8" width="411.4" height="345.3" fill="none" stroke="#000" stroke-width="2.6"/>
<line x1="134.4" y1="788.1" x2="134.4" y2="778.1" stroke="#000" stroke-width="2.2" stroke-linecap="butt"/>
<line x1="231.7" y1="788.1" x2="231.7" y2="778.1" stroke="#000" stroke-width="2.2" stroke-linecap="butt"/>
<line x1="329" y1="788.1" x2="329" y2="778.1" stroke="#000" stroke-width="2.2" stroke-linecap="butt"/>
<line x1="426.3" y1="788.1" x2="426.3" y2="778.1" stroke="#000" stroke-width="2.2" stroke-linecap="butt"/>
<line x1="183.05" y1="788.1" x2="183.05" y2="782.1" stroke="#000" stroke-width="2.2" stroke-linecap="butt"/>
<line x1="280.35" y1="788.1" x2="280.35" y2="782.1" stroke="#000" stroke-width="2.2" stroke-linecap="butt"/>
<line x1="377.65" y1="788.1" x2="377.65" y2="782.1" stroke="#000" stroke-width="2.2" stroke-linecap="butt"/>
<line x1="474.95" y1="788.1" x2="474.95" y2="782.1" stroke="#000" stroke-width="2.2" stroke-linecap="butt"/>
<line x1="111" y1="756.65" x2="117" y2="756.65" stroke="#000" stroke-width="2.2" stroke-linecap="butt"/>
<line x1="111" y1="725.3" x2="121" y2="725.3" stroke="#000" stroke-width="2.2" stroke-linecap="butt"/>
<line x1="111" y1="693.95" x2="117" y2="693.95" stroke="#000" stroke-width="2.2" stroke-linecap="butt"/>
<line x1="111" y1="662.6" x2="121" y2="662.6" stroke="#000" stroke-width="2.2" stroke-linecap="butt"/>
<line x1="111" y1="631.25" x2="117" y2="631.25" stroke="#000" stroke-width="2.2" stroke-linecap="butt"/>
<line x1="111" y1="599.9" x2="121" y2="599.9" stroke="#000" stroke-width="2.2" stroke-linecap="butt"/>
<line x1="111" y1="568.55" x2="117" y2="568.55" stroke="#000" stroke-width="2.2" stroke-linecap="butt"/>
<line x1="111" y1="537.2" x2="121" y2="537.2" stroke="#000" stroke-width="2.2" stroke-linecap="butt"/>
<line x1="111" y1="505.85" x2="117" y2="505.85" stroke="#000" stroke-width="2.2" stroke-linecap="butt"/>
<line x1="111" y1="474.5" x2="121" y2="474.5" stroke="#000" stroke-width="2.2" stroke-linecap="butt"/>
<text transform="translate(97.1 797.1) scale(0.83 1)" text-anchor="end" font-size="40" fill="#000" style="" >0.0</text>
<text transform="translate(97.1 734.4) scale(0.83 1)" text-anchor="end" font-size="40" fill="#000" style="" >0.2</text>
<text transform="translate(97.1 671.7) scale(0.83 1)" text-anchor="end" font-size="40" fill="#000" style="" >0.4</text>
<text transform="translate(97.1 609) scale(0.83 1)" text-anchor="end" font-size="40" fill="#000" style="" >0.6</text>
<text transform="translate(97.1 546.3) scale(0.83 1)" text-anchor="end" font-size="40" fill="#000" style="" >0.8</text>
<text transform="translate(97.1 483.6) scale(0.83 1)" text-anchor="end" font-size="40" fill="#000" style="" >1.0</text>
<text transform="translate(138.1 830.2) scale(0.88 1)" text-anchor="middle" font-size="40.4" fill="#000" style="" >600</text>
<text transform="translate(235 830.2) scale(0.88 1)" text-anchor="middle" font-size="40.4" fill="#000" style="" >620</text>
<text transform="translate(331.4 830.2) scale(0.88 1)" text-anchor="middle" font-size="40.4" fill="#000" style="" >640</text>
<text transform="translate(428.7 830.2) scale(0.88 1)" text-anchor="middle" font-size="40.4" fill="#000" style="" >660</text>
<text transform="translate(261.5 868.5) scale(1 1)" text-anchor="start" font-size="38" fill="#000" style="" >λ (nm)</text>
<text transform="translate(37.5 640) rotate(-90)" text-anchor="middle" font-size="37" style="font-style:italic">T</text>
<text transform="translate(15 465.5) scale(1.04 1)" text-anchor="start" font-size="30.5" fill="#000" style="" >(c)</text>
<text transform="translate(420 539.3) scale(1 1)" text-anchor="start" font-size="31" fill="#8E1B3A" style="" >X-pol</text>
<text transform="translate(458.5 586.5) scale(1 1)" text-anchor="start" font-size="30" fill="#000" style="font-style:italic;" >F</text>
<line x1="400.5" y1="614.7" x2="440.1" y2="614.7" stroke="#6E1A7C" stroke-width="2.4" stroke-linecap="butt"/>
<text transform="translate(448.6 620.3) scale(0.86 1)" text-anchor="start" font-size="28.4" fill="#000" style="" >50</text>
<text transform="translate(481.6 620.3) scale(1.02 1)" text-anchor="start" font-size="26.5" fill="#000" style="" >%</text>
<line x1="400.5" y1="647.2" x2="440.1" y2="647.2" stroke="#D8282C" stroke-width="2.4" stroke-linecap="butt" stroke-dasharray="10 19 11"/>
<text transform="translate(448.6 652.8) scale(0.86 1)" text-anchor="start" font-size="28.4" fill="#000" style="" >60</text>
<text transform="translate(481.6 652.8) scale(1.02 1)" text-anchor="start" font-size="26.5" fill="#000" style="" >%</text>
<line x1="400.5" y1="679" x2="440.1" y2="679" stroke="#1E1EA8" stroke-width="2.4" stroke-linecap="butt" stroke-dasharray="8 7"/>
<text transform="translate(448.6 684.6) scale(0.86 1)" text-anchor="start" font-size="28.4" fill="#000" style="" >70</text>
<text transform="translate(481.6 684.6) scale(1.02 1)" text-anchor="start" font-size="26.5" fill="#000" style="" >%</text>
<line x1="400.5" y1="709.3" x2="440.1" y2="709.3" stroke="#701616" stroke-width="2.6" stroke-linecap="butt" stroke-dasharray="4.5 3"/>
<text transform="translate(448.6 714.9) scale(0.86 1)" text-anchor="start" font-size="28.4" fill="#000" style="" >80</text>
<text transform="translate(481.6 714.9) scale(1.02 1)" text-anchor="start" font-size="26.5" fill="#000" style="" >%</text>
<line x1="400.5" y1="742.2" x2="440.1" y2="742.2" stroke="#23822B" stroke-width="2.4" stroke-linecap="butt" stroke-dasharray="5.5 2.8"/>
<text transform="translate(448.6 747.8) scale(0.86 1)" text-anchor="start" font-size="28.4" fill="#000" style="" >90</text>
<text transform="translate(481.6 747.8) scale(1.02 1)" text-anchor="start" font-size="26.5" fill="#000" style="" >%</text>
<clipPath id="cd"><rect x="646.5" y="445.6" width="411.7" height="344.4"/></clipPath>
<path d="M646.6 565 C646.75 562.5 647.1 554.12 647.5 550 C647.9 545.88 648.08 543.92 649 540.3 C649.92 536.68 650.98 531.97 653 528.3 C655.02 524.63 657.75 521.15 661.1 518.3 C664.45 515.45 667.75 513.22 673.1 511.2 C678.45 509.18 684.83 507.87 693.2 506.2 C701.57 504.53 711.6 502.93 723.3 501.2 C735 499.47 750.03 497.37 763.4 495.8 C776.77 494.23 788.58 493.07 803.5 491.8 C818.42 490.53 838.47 489.2 852.9 488.2 C867.33 487.2 877.2 486.65 890.1 485.8 C903 484.95 919.58 483.55 930.3 483.1 C941.02 482.65 949.05 482.58 954.4 483.1 C959.75 483.62 960.07 483.68 962.4 486.2 C964.73 488.72 966.9 492.52 968.4 498.2 C969.9 503.88 970.67 509.93 971.4 520.3 C972.13 530.67 972.33 545.12 972.8 560.4 C973.27 575.68 973.77 589.87 974.2 612 C974.63 634.13 975.13 668.78 975.4 693.2 C975.67 717.62 975.57 758.5 975.8 758.5 C976.03 758.5 976.4 717.62 976.8 693.2 C977.2 668.78 977.77 634.13 978.2 612 C978.63 589.87 979.03 577.37 979.4 560.4 C979.77 543.43 980.07 522.57 980.4 510.2 C980.73 497.83 980.72 491.88 981.4 486.2 C982.08 480.52 971.4 477.95 984.5 476.1 C997.6 474.25 1047.42 475.27 1060 475.1" fill="none" stroke="#23822B" stroke-width="2.4" stroke-linejoin="round" stroke-dasharray="5.8 3.4" clip-path="url(#cd)"/>
<path d="M646.6 522.3 C648.68 520.97 654.68 516.48 659.1 514.3 C663.52 512.12 667.42 510.72 673.1 509.2 C678.78 507.68 684.83 506.7 693.2 505.2 C701.57 503.7 711.6 501.87 723.3 500.2 C735 498.53 750.03 496.7 763.4 495.2 C776.77 493.7 788.58 492.37 803.5 491.2 C818.42 490.03 838.47 489.03 852.9 488.2 C867.33 487.37 881.22 486.2 890.1 486.2 C898.98 486.2 901.52 486.87 906.2 488.2 C910.88 489.53 914.85 491.53 918.2 494.2 C921.55 496.87 923.95 499.18 926.3 504.2 C928.65 509.22 930.63 516.6 932.3 524.3 C933.97 532 935.3 541.03 936.3 550.4 C937.3 559.77 937.8 569.23 938.3 580.5 C938.8 591.77 938.97 602.6 939.3 618 C939.63 633.4 939.8 653.6 940.3 672.9 C940.8 692.2 941.8 718.75 942.3 733.8 C942.8 748.85 942.95 763.2 943.3 763.2 C943.65 763.2 943.88 748.85 944.4 733.8 C944.92 718.75 945.83 692.2 946.4 672.9 C946.97 653.6 947.32 636.75 947.8 618 C948.28 599.25 948.72 576.68 949.3 560.4 C949.88 544.12 950.45 531 951.3 520.3 C952.15 509.6 953.05 502.05 954.4 496.2 C955.75 490.35 957.4 488.05 959.4 485.2 C961.4 482.35 962.9 480.62 966.4 479.1 C969.9 477.58 964.8 476.67 980.4 476.1 C996 475.53 1046.73 475.77 1060 475.7" fill="none" stroke="#701616" stroke-width="2.4" stroke-linejoin="round" stroke-dasharray="6.6 4" clip-path="url(#cd)"/>
<path d="M646.6 512 C648.57 511.2 654.33 508.45 658.4 507.2 C662.47 505.95 667.37 505.32 671 504.5 C674.63 503.68 676.68 503.02 680.2 502.3 C683.72 501.58 688.6 500.88 692.1 500.2 C695.6 499.52 697.7 498.8 701.2 498.2 C704.7 497.6 707.6 497.25 713.1 496.6 C718.6 495.95 729.17 494.9 734.2 494.3 C739.23 493.7 735.08 493.75 743.3 493 C751.52 492.25 770.12 490.5 783.5 489.8 C796.88 489.1 812.52 488.57 823.6 488.8 C834.68 489.03 843.93 489.63 850 491.2 C856.07 492.77 856.65 494.35 860 498.2 C863.35 502.05 867.42 507.95 870.1 514.3 C872.78 520.65 874.43 528.62 876.1 536.3 C877.77 543.98 878.87 546.77 880.1 560.4 C881.33 574.03 882.6 602.73 883.5 618.1 C884.4 633.47 884.83 640.08 885.5 652.6 C886.17 665.12 886.82 679.67 887.5 693.2 C888.18 706.73 889.08 723.42 889.6 733.8 C890.12 744.18 890.03 755.5 890.6 755.5 C891.17 755.5 892.27 744.18 893 733.8 C893.73 723.42 894.38 706.73 895 693.2 C895.62 679.67 896.15 666.13 896.7 652.6 C897.25 639.07 897.88 624.02 898.3 612 C898.72 599.98 898.55 592.45 899.2 580.5 C899.85 568.55 901.03 552.02 902.2 540.3 C903.37 528.58 904.87 517.88 906.2 510.2 C907.53 502.52 908.9 498.15 910.2 494.2 C911.5 490.25 912.33 488.52 914 486.5 C915.67 484.48 916.82 483.5 920.2 482.1 C923.58 480.7 925.93 479 934.3 478.1 C942.67 477.2 949.45 476.97 970.4 476.7 C991.35 476.43 1045.07 476.53 1060 476.5" fill="none" stroke="#1E1EA8" stroke-width="2.4" stroke-linejoin="round" stroke-dasharray="11.5 10" clip-path="url(#cd)"/>
<path d="M646.6 498.2 C647.83 497.67 651.25 495.73 654 495 C656.75 494.27 654.9 494.2 663.1 493.8 C671.3 493.4 689.83 492.87 703.2 492.6 C716.57 492.33 732.6 492 743.3 492.2 C754 492.4 762.03 492.8 767.4 493.8 C772.77 494.8 772.82 496.47 775.5 498.2 C778.18 499.93 780.83 501.18 783.5 504.2 C786.17 507.22 789.17 511.28 791.5 516.3 C793.83 521.32 795.83 527.62 797.5 534.3 C799.17 540.98 800.33 548.7 801.5 556.4 C802.67 564.1 803.52 570.55 804.5 580.5 C805.48 590.45 806.65 604.08 807.4 616.1 C808.15 628.12 808.5 639.75 809 652.6 C809.5 665.45 809.83 680.68 810.4 693.2 C810.97 705.72 811.72 716.98 812.4 727.7 C813.08 738.42 813.65 757.5 814.5 757.5 C815.35 757.5 816.67 738.42 817.5 727.7 C818.33 716.98 818.98 705.72 819.5 693.2 C820.02 680.68 820.25 665.45 820.6 652.6 C820.95 639.75 821.27 628.12 821.6 616.1 C821.93 604.08 821.93 591.45 822.6 580.5 C823.27 569.55 824.6 560.43 825.6 550.4 C826.6 540.37 827.43 528.67 828.6 520.3 C829.77 511.93 830.75 505.05 832.6 500.2 C834.45 495.35 836.32 493.57 839.7 491.2 C843.08 488.83 847.85 487.7 852.9 486 C857.95 484.3 862.15 482.25 870 481 C877.85 479.75 885 479.17 900 478.5 C915 477.83 933.33 477.33 960 477 C986.67 476.67 1043.33 476.58 1060 476.5" fill="none" stroke="#D8282C" stroke-width="2.3" stroke-linejoin="round" stroke-dasharray="17 17" clip-path="url(#cd)"/>
<path d="M646.6 489.2 C649.35 489.53 658.02 490.2 663.1 491.2 C668.18 492.2 673.08 493.37 677.1 495.2 C681.12 497.03 684.18 499.02 687.2 502.2 C690.22 505.38 693.03 509.62 695.2 514.3 C697.37 518.98 698.87 524.28 700.2 530.3 C701.53 536.32 702.2 542.03 703.2 550.4 C704.2 558.77 705.4 570.23 706.2 580.5 C707 590.77 707.43 599.98 708 612 C708.57 624.02 709.1 639.07 709.6 652.6 C710.1 666.13 710.43 679.67 711 693.2 C711.57 706.73 712.5 722.58 713 733.8 C713.5 745.02 713.48 760.5 714 760.5 C714.52 760.5 715.48 745.02 716.1 733.8 C716.72 722.58 717.3 706.73 717.7 693.2 C718.1 679.67 718.2 665.13 718.5 652.6 C718.8 640.07 719.03 630.02 719.5 618 C719.97 605.98 720.67 593.45 721.3 580.5 C721.93 567.55 722.47 552.02 723.3 540.3 C724.13 528.58 724.97 518.55 726.3 510.2 C727.63 501.85 729.13 495.22 731.3 490.2 C733.47 485.18 735.62 482.38 739.3 480.1 C742.98 477.82 747.72 477.3 753.4 476.5 C759.08 475.7 756.82 475.47 773.4 475.3 C789.98 475.13 821.8 475.3 852.9 475.5 C884 475.7 925.48 476.25 960 476.5 C994.52 476.75 1043.33 476.92 1060 477" fill="none" stroke="#6E1A7C" stroke-width="2.3" stroke-linejoin="round" clip-path="url(#cd)"/>
<line x1="813.9" y1="748" x2="814.5" y2="757.5" stroke="#D8282C" stroke-width="2.3" stroke-linecap="butt"/>
<rect x="646.5" y="445.6" width="411.7" height="344.4" fill="none" stroke="#000" stroke-width="2.6"/>
<line x1="675.5" y1="790" x2="675.5" y2="780" stroke="#000" stroke-width="2.2" stroke-linecap="butt"/>
<line x1="793.18" y1="790" x2="793.18" y2="780" stroke="#000" stroke-width="2.2" stroke-linecap="butt"/>
<line x1="910.86" y1="790" x2="910.86" y2="780" stroke="#000" stroke-width="2.2" stroke-linecap="butt"/>
<line x1="1028.54" y1="790" x2="1028.54" y2="780" stroke="#000" stroke-width="2.2" stroke-linecap="butt"/>
<line x1="734.34" y1="790" x2="734.34" y2="784" stroke="#000" stroke-width="2.2" stroke-linecap="butt"/>
<line x1="852.02" y1="790" x2="852.02" y2="784" stroke="#000" stroke-width="2.2" stroke-linecap="butt"/>
<line x1="969.7" y1="790" x2="969.7" y2="784" stroke="#000" stroke-width="2.2" stroke-linecap="butt"/>
<line x1="646.5" y1="762.2" x2="656.5" y2="762.2" stroke="#000" stroke-width="2.2" stroke-linecap="butt"/>
<line x1="646.5" y1="733.39" x2="652.5" y2="733.39" stroke="#000" stroke-width="2.2" stroke-linecap="butt"/>
<line x1="646.5" y1="704.58" x2="656.5" y2="704.58" stroke="#000" stroke-width="2.2" stroke-linecap="butt"/>
<line x1="646.5" y1="675.77" x2="652.5" y2="675.77" stroke="#000" stroke-width="2.2" stroke-linecap="butt"/>
<line x1="646.5" y1="646.96" x2="656.5" y2="646.96" stroke="#000" stroke-width="2.2" stroke-linecap="butt"/>
<line x1="646.5" y1="618.15" x2="652.5" y2="618.15" stroke="#000" stroke-width="2.2" stroke-linecap="butt"/>
<line x1="646.5" y1="589.34" x2="656.5" y2="589.34" stroke="#000" stroke-width="2.2" stroke-linecap="butt"/>
<line x1="646.5" y1="560.53" x2="652.5" y2="560.53" stroke="#000" stroke-width="2.2" stroke-linecap="butt"/>
<line x1="646.5" y1="531.72" x2="656.5" y2="531.72" stroke="#000" stroke-width="2.2" stroke-linecap="butt"/>
<line x1="646.5" y1="502.91" x2="652.5" y2="502.91" stroke="#000" stroke-width="2.2" stroke-linecap="butt"/>
<line x1="646.5" y1="474.1" x2="656.5" y2="474.1" stroke="#000" stroke-width="2.2" stroke-linecap="butt"/>
<text transform="translate(632.7 771.3) scale(0.83 1)" text-anchor="end" font-size="40" fill="#000" style="" >0.0</text>
<text transform="translate(632.7 713.68) scale(0.83 1)" text-anchor="end" font-size="40" fill="#000" style="" >0.2</text>
<text transform="translate(632.7 656.06) scale(0.83 1)" text-anchor="end" font-size="40" fill="#000" style="" >0.4</text>
<text transform="translate(632.7 598.44) scale(0.83 1)" text-anchor="end" font-size="40" fill="#000" style="" >0.6</text>
<text transform="translate(632.7 540.82) scale(0.83 1)" text-anchor="end" font-size="40" fill="#000" style="" >0.8</text>
<text transform="translate(632.7 483.2) scale(0.83 1)" text-anchor="end" font-size="40" fill="#000" style="" >1.0</text>
<text transform="translate(679.2 832) scale(0.88 1)" text-anchor="middle" font-size="40.4" fill="#000" style="" >640</text>
<text transform="translate(796.7 832) scale(0.88 1)" text-anchor="middle" font-size="40.4" fill="#000" style="" >680</text>
<text transform="translate(914.2 832) scale(0.88 1)" text-anchor="middle" font-size="40.4" fill="#000" style="" >720</text>
<text transform="translate(1032.9 832) scale(0.88 1)" text-anchor="middle" font-size="40.4" fill="#000" style="" >760</text>
<text transform="translate(795 871) scale(1 1)" text-anchor="start" font-size="38" fill="#000" style="" >λ (nm)</text>
<text transform="translate(572.5 621.5) rotate(-90)" text-anchor="middle" font-size="37" style="font-style:italic">T</text>
<text transform="translate(542 469.5) scale(1.04 1)" text-anchor="start" font-size="30.5" fill="#000" style="" >(d)</text>
<text transform="translate(986.5 526.3) scale(1 1)" text-anchor="start" font-size="31" fill="#8E1B3A" style="" >Y-pol</text>
</g>
</svg>
</body></html>
